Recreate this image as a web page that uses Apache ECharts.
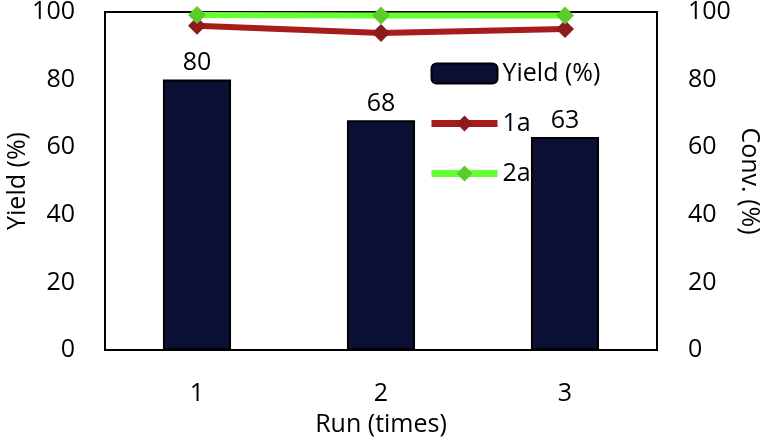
<!DOCTYPE html>
<html>
<head>
<meta charset="utf-8">
<script src="https://cdn.jsdelivr.net/npm/echarts@6/dist/echarts.min.js"></script>
<style>
  html, body { margin: 0; padding: 0; background: #fff; }
  #chart { width: 762px; height: 438px; }
</style>
</head>
<body>
<div id="chart"></div>
<script>
var runs = ['1', '2', '3'];
var yieldData = [80, 68, 63];
var conv1a = [95.9, 93.8, 95];
var conv2a = [99.1, 99, 99];

var font = 'Open Sans';
var fs = 25;
var chart = echarts.init(document.getElementById('chart'));

var option = {
    backgroundColor: '#fff',
    textStyle: { fontFamily: font },
    grid: {
        left: 105, right: 105, top: 12, bottom: 88,
        outerBoundsMode: 'none', containLabel: false,
        show: true, borderColor: '#000', borderWidth: 2, backgroundColor: 'transparent'
    },
    legend: {
        orient: 'vertical',
        left: 423, top: 56,
        itemWidth: 66, itemHeight: 20, itemGap: 25,
        textStyle: { fontSize: fs, color: '#000', fontFamily: font },
        data: [
            { name: 'Yield (%)', itemStyle: { borderColor: '#000', borderWidth: 2 } },
            { name: '1a', lineStyle: { width: 7 } },
            { name: '2a', lineStyle: { width: 7 } }
        ]
    },
    xAxis: {
        type: 'category',
        data: runs,
        name: 'Run (times)',
        nameLocation: 'middle',
        nameGap: 62,
        nameMoveOverlap: false,
        nameTextStyle: { fontSize: fs, color: '#000' },
        axisLine: { lineStyle: { color: '#000', width: 2 } },
        axisTick: { show: false },
        axisLabel: { fontSize: fs, color: '#000', margin: 31 }
    },
    yAxis: [{
        type: 'value',
        min: 0, max: 100, interval: 20,
        name: 'Yield (%)',
        nameLocation: 'middle',
        nameGap: 75,
        nameMoveOverlap: false,
        nameTextStyle: { fontSize: fs, color: '#000' },
        axisLine: { show: true, lineStyle: { color: '#000', width: 2 } },
        axisTick: { show: false },
        splitLine: { show: false },
        axisLabel: { fontSize: fs, color: '#000', margin: 30 }
    }, {
        type: 'value',
        min: 0, max: 100, interval: 20,
        name: 'Conv. (%)',
        nameLocation: 'middle',
        nameGap: 80,
        nameRotate: -90,
        nameMoveOverlap: false,
        nameTextStyle: { fontSize: fs, color: '#000' },
        axisLine: { show: true, lineStyle: { color: '#000', width: 2 } },
        axisTick: { show: false },
        splitLine: { show: false },
        axisLabel: { fontSize: fs, color: '#000', margin: 31 }
    }],
    series: [{
        name: 'Yield (%)',
        type: 'bar',
        data: yieldData,
        barWidth: '37%',
        itemStyle: { color: '#0a0f33', borderColor: '#000', borderWidth: 2 },
        label: { show: true, position: 'top', fontSize: fs, color: '#000', distance: 4 }
    }, {
        name: '1a',
        type: 'line',
        yAxisIndex: 1,
        data: conv1a,
        symbol: 'diamond',
        symbolSize: 18,
        lineStyle: { color: '#a81c1c', width: 6 },
        itemStyle: { color: '#8c1a1f' },
        z: 3
    }, {
        name: '2a',
        type: 'line',
        yAxisIndex: 1,
        data: conv2a,
        symbol: 'diamond',
        symbolSize: 18,
        lineStyle: { color: '#66ff33', width: 6 },
        itemStyle: { color: '#5ccc2a' },
        z: 4
    }]
};

chart.setOption(option);
</script>
</body>
</html>
